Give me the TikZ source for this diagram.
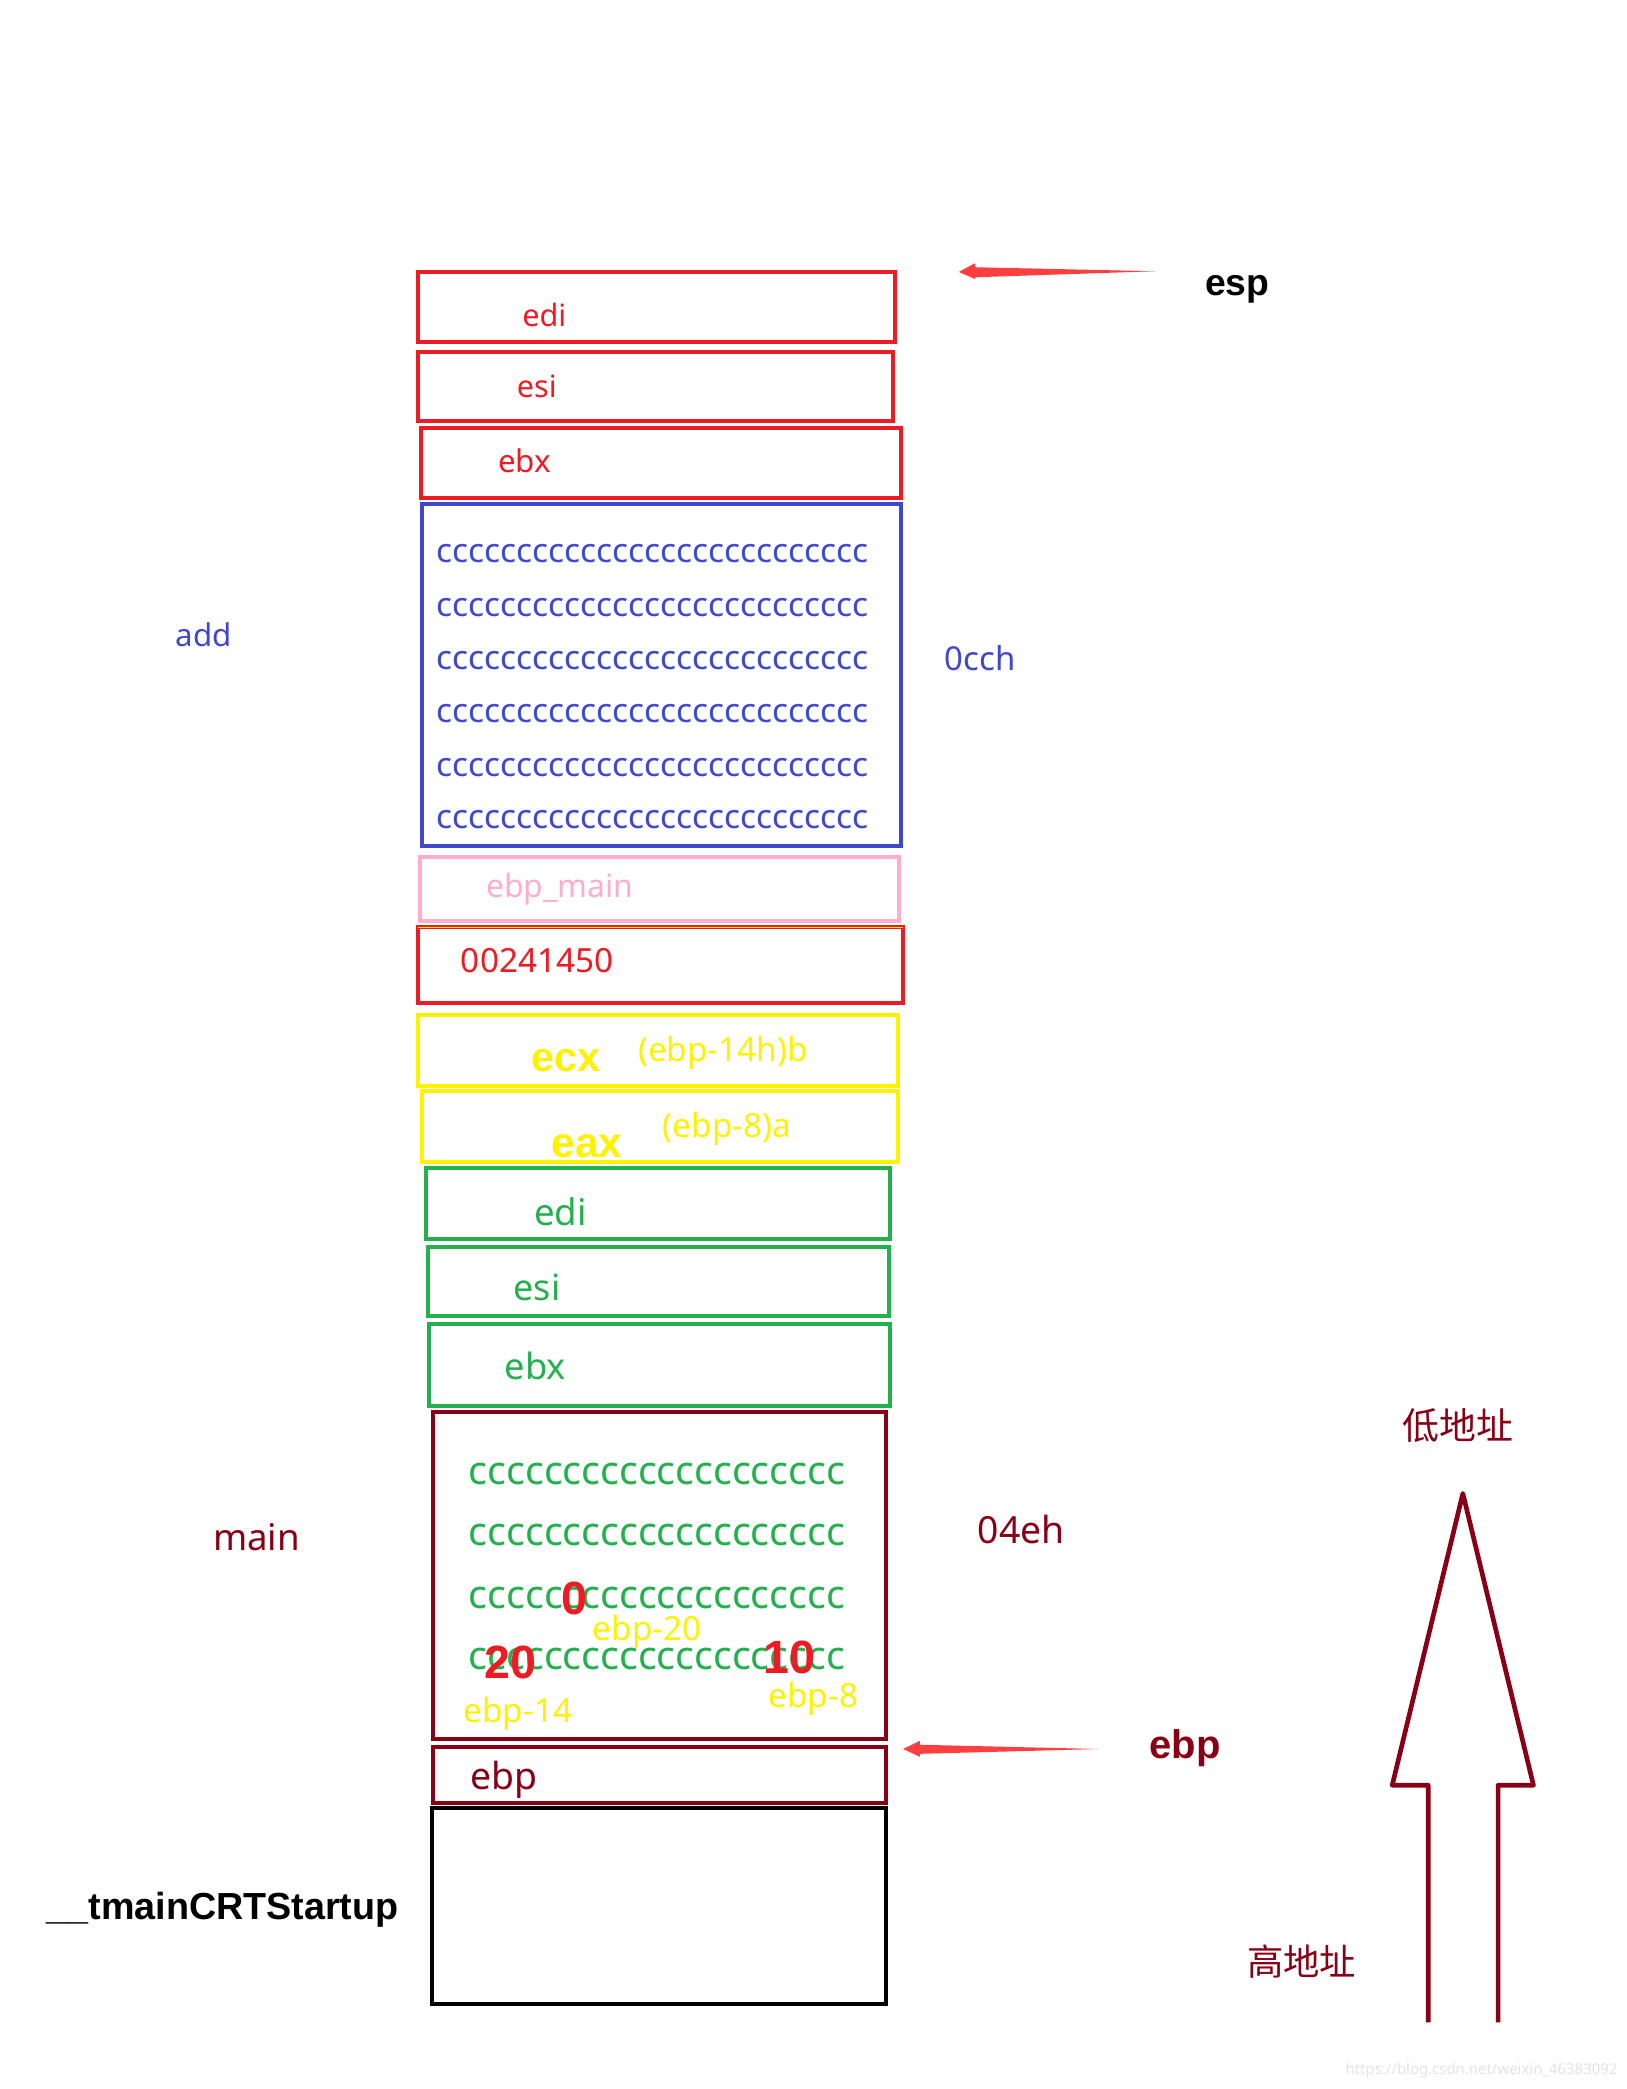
\documentclass[tikz,border=0pt]{standalone}
\usepackage{fontspec}
\setmainfont{Noto Sans}
\newfontfamily\cjk{Noto Sans CJK SC}
\newfontfamily\bsans{Liberation Sans}
\usetikzlibrary{calc}
\definecolor{pred}{HTML}{ED1C24}
\definecolor{pblue}{HTML}{3F48CC}
\definecolor{ppink}{HTML}{FFAEC9}
\definecolor{pyellow}{HTML}{FFF200}
\definecolor{pgreen}{HTML}{22B14C}
\definecolor{pdark}{HTML}{880015}
\definecolor{parrow}{HTML}{FF3F3F}
\newcommand\myfs[1]{\fontsize{#1pt}{#1pt}\selectfont}
\newcommand\cblue{ccccccccccccccccccccccccccc}
\newcommand\cgreen{cccccccccccccccccccc}
\begin{document}
\begin{tikzpicture}[x=1pt,y=-1pt,
  bx/.style={line width=3pt, inner sep=0pt, outer sep=0pt, anchor=north west},
  tx/.style={inner sep=0pt, outer sep=0pt, anchor=base west},
  bt/.style={tx, font=\bsans\bfseries\myfs{#1}},
  cj/.style={inner sep=0pt, outer sep=0pt, anchor=center, font=\cjk}]
\useasboundingbox[fill=white] (0,0) rectangle (1221,1568);

% stack boxes
\node[bx, draw=pred, minimum width=358pt, minimum height=53pt] (r1) at (314,204) {};
\node[bx, draw=pred, minimum width=356pt, minimum height=52pt] (r2) at (314,264) {};
\node[bx, draw=pred, minimum width=360pt, minimum height=53pt] (r3) at (316,321) {};
\node[bx, draw=pblue, minimum width=359pt, minimum height=257pt] (bl) at (317,378) {};
\node[bx, draw=ppink, minimum width=360pt, minimum height=48pt] (pk) at (315,643) {};
\node[bx, draw=pred, minimum width=364pt, minimum height=57pt] (r4) at (314,696) {};
\draw[pyellow, line width=1pt] (r4.north west) -- (r4.north east);
\node[bx, draw=pyellow, minimum width=360pt, minimum height=53pt] (y1) at (314,762) {};
\node[bx, draw=pyellow, minimum width=357pt, minimum height=53pt] (y2) at (317,819) {};
\node[bx, draw=pgreen, minimum width=348pt, minimum height=53pt] (g1) at (320,877) {};
\node[bx, draw=pgreen, minimum width=346pt, minimum height=52pt] (g2) at (321,936) {};
\node[bx, draw=pgreen, minimum width=346pt, minimum height=61pt] (g3) at (322,994) {};
\node[bx, draw=pdark, minimum width=340pt, minimum height=245pt] (d1) at (325,1060) {};
\node[bx, draw=pdark, minimum width=340pt, minimum height=42pt] (d2) at (325,1311) {};
\node[bx, draw=black, minimum width=341pt, minimum height=147pt] (bk) at (324,1357) {};

% texts in boxes
\node[tx, text=pred, font=\myfs{23}] (t1) at (392,245) {edi};
\node[tx, text=pred, font=\myfs{23}] (t2) at (388,298.5) {esi};
\node[tx, text=pred, font=\myfs{23.5}] (t3) at (374,355) {ebx};
\foreach \yy [count=\i] in {422.5,462.5,502.5,542.5,582.5,622}
  \node[tx, text=pblue, font=\myfs{25}] (cb\i) at (328,\yy) {\cblue};
\node[tx, text=ppink, font=\myfs{24}] (t4) at (365,674) {ebp\_main};
\node[tx, text=pred, font=\myfs{25}] (t5) at (346,730) {00241450};
\node[bt=31, text=pyellow] (t6) at (399,804) {ecx};
\node[tx, text=pyellow, font=\myfs{25}] (t7) at (479,796.5) {(ebp-14h)b};
\node[bt=32, text=pyellow] (t8) at (414,869) {eax};
\node[tx, text=pyellow, font=\myfs{25}] (t9) at (497.5,854) {(ebp-8)a};
\node[tx, text=pgreen, font=\myfs{27.5}] (t10) at (401,920) {edi};
\node[tx, text=pgreen, font=\myfs{27}] (t11) at (385.5,976) {esi};
\node[tx, text=pgreen, font=\myfs{27.2}] (t12) at (379,1035.6) {ebx};
\foreach \yy [count=\i] in {1114,1160.2,1207,1252.8}
  \node[tx, text=pgreen, font=\myfs{29.4}] (cg\i) at (352,\yy) {\cgreen};
\node[bt=35, text=pred] (n0) at (421.5,1212) {0};
\node[bt=35, text=pred] (n20) at (364,1259.5) {20};
\node[bt=35, text=pred] (n10) at (573,1256) {10};
\node[tx, text=pyellow, font=\myfs{25}] (e20) at (445,1231) {ebp-20};
\node[tx, text=pyellow, font=\myfs{25}] (e14) at (348,1293) {ebp-14};
\node[tx, text=pyellow, font=\myfs{25}] (e8) at (577,1282) {ebp-8};
\node[tx, text=pdark, font=\myfs{28}] (t13) at (353,1343) {ebp};

% side labels
\node[tx, text=pblue, font=\myfs{23.5}] (ladd) at (132,485) {add};
\node[tx, text=pdark, font=\myfs{27.5}] (lmain) at (160,1164) {main};
\node[bt=28.3, text=black] (lcrt) at (35,1441) {\_\_tmainCRTStartup};
\node[tx, text=pblue, font=\myfs{24.7}] (locch) at (709,503) {0cch};
\node[tx, text=pdark, font=\myfs{28}] (l04) at (734,1158.7) {04eh};
\node[bt=28, text=black] (lesp) at (904.5,221.5) {esp};
\node[bt=30, text=pdark] (lebp) at (863,1320) {ebp};
\node[cj, text=pdark, font=\cjk\myfs{27.7}] (low) at (1094.5,1070) {低地址};
\node[cj, text=pdark, font=\cjk\myfs{27.3}] (high) at (977,1472.5) {高地址};
\node[inner sep=0pt, text=gray!22, font=\myfs{11.2}] (wm) at (1112,1554) {https://blog.csdn.net/weixin\_46383092};

% pointer arrows
\coordinate (esptip) at (719.7,204.1);
\coordinate (esptail) at (866.8,203.6);
\fill[parrow] (esptip) -- ($(esptip)+(12,-6.5)$) -- ($(esptip)+(12.5,-3.5)$) -- (esptail)
  -- ($(esptip)+(12.5,4)$) -- ($(esptip)+(12,5.3)$) -- cycle;
\coordinate (ebptip) at (677.9,1312.8);
\coordinate (ebptail) at (824.8,1312.8);
\fill[parrow] (ebptip) -- ($(ebptip)+(12.5,-6.2)$) -- ($(ebptip)+(12.5,-3.2)$) -- (ebptail)
  -- ($(ebptip)+(12.5,3.6)$) -- ($(ebptip)+(12.5,5.8)$) -- cycle;

% big hollow arrow
\coordinate (atip) at (1098,1121);
\coordinate (aL) at (1045,1340);
\coordinate (aR) at (1151,1340);
\draw[pdark, line width=3.5pt, line join=round] (1072,1518) -- (1072,1340) -- (aL) -- (atip)
  -- (aR) -- (1124.5,1340) -- (1124.5,1518);
\end{tikzpicture}
\end{document}
